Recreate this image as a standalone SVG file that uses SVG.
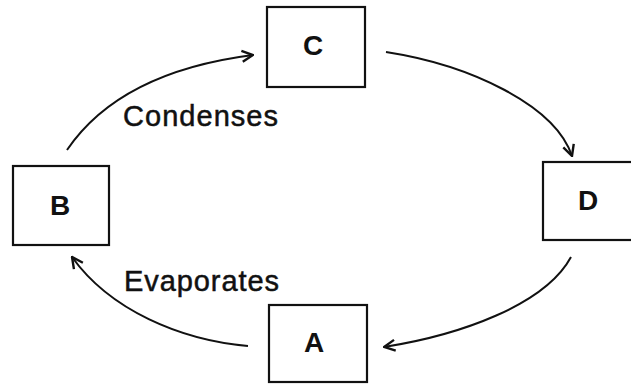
<svg xmlns="http://www.w3.org/2000/svg" width="631" height="384" viewBox="0 0 631 384">
<style>
.box{fill:#fff;stroke:#111;stroke-width:2.2}
.lt{font-family:"Liberation Sans",Arial,sans-serif;font-size:28px;font-weight:bold;fill:#111;text-anchor:middle}
.lbl{font-family:"Liberation Sans",Arial,sans-serif;font-size:29px;fill:#111;stroke:#111;stroke-width:0.5}
.con{fill:none;stroke:#111;stroke-width:2;marker-end:url(#ah)}
</style>
<defs>
<marker id="ah" viewBox="0 0 14 14" refX="13" refY="7" markerWidth="14" markerHeight="14" markerUnits="userSpaceOnUse" orient="auto">
<path d="M2,1.5 L13,7 L2,12.5" fill="none" stroke="#111" stroke-width="2.4" stroke-linejoin="miter"/>
</marker>
</defs>
<rect width="631" height="384" fill="#fff"/>
<g id="connectors">
<path class="con" d="M67,150 Q120,72 253,55"/>
<path class="con" d="M386,52 C470,65 555,105 572,156"/>
<path class="con" d="M571,257 C545,305 460,335 384,347"/>
<path class="con" d="M248,346 C180,340 110,310 72,257"/>
</g>
<g id="node-C"><rect class="box" x="267" y="7" width="98" height="80"/><text class="lt" x="313" y="55">C</text></g>
<g id="node-B"><rect class="box" x="13" y="166" width="96" height="79"/><text class="lt" x="60" y="215">B</text></g>
<g id="node-D"><rect class="box" x="543" y="162" width="98" height="78"/><text class="lt" x="588" y="210">D</text></g>
<g id="node-A"><rect class="box" x="269" y="305" width="98" height="77"/><text class="lt" x="314" y="352">A</text></g>
<g id="labels">
<text class="lbl" x="123" y="126" textLength="155" lengthAdjust="spacing">Condenses</text>
<text class="lbl" x="124" y="291" textLength="155" lengthAdjust="spacing">Evaporates</text>
</g>
</svg>
